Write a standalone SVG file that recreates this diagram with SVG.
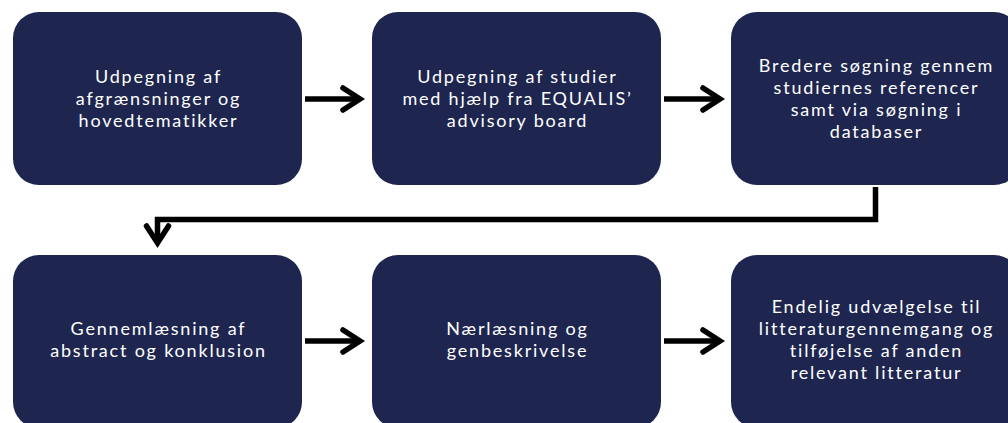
<svg xmlns="http://www.w3.org/2000/svg" width="1008" height="423" viewBox="0 0 1008 423">
<style>
.box{fill:#1E2650}
.t{fill:#ffffff;font-family:"Lato","Noto Sans",sans-serif;font-size:18px;letter-spacing:1.8px;text-anchor:middle}
.c{fill:none;stroke:#000;stroke-width:5.5}
</style>
<defs>
<marker id="ah" markerUnits="userSpaceOnUse" markerWidth="30" markerHeight="30" viewBox="-24 -15 30 30" refX="0" refY="0" orient="auto">
<path d="M-17,-11 L0,0 L-17,11" fill="none" stroke="#000" stroke-width="5.5" stroke-linecap="round" stroke-linejoin="miter"/>
</marker>
</defs>
<rect width="1008" height="423" fill="#fff"/>
<g id="n1"><rect class="box" x="13" y="12" width="289" height="173" rx="26"/>
<text class="t"><tspan x="158.5" y="83">Udpegning af</tspan><tspan x="158.5" y="105">afgrænsninger og</tspan><tspan x="158.5" y="127">hovedtematikker</tspan></text></g>
<g id="n2"><rect class="box" x="372" y="12" width="289" height="173" rx="26"/>
<text class="t"><tspan x="517.5" y="83">Udpegning af studier</tspan><tspan x="517.5" y="105">med hjælp fra EQUALIS’</tspan><tspan x="517.5" y="127">advisory board</tspan></text></g>
<g id="n3"><rect class="box" x="731" y="12" width="289" height="173" rx="26"/>
<text class="t"><tspan x="876.5" y="72">Bredere søgning gennem</tspan><tspan x="876.5" y="94">studiernes referencer</tspan><tspan x="876.5" y="116">samt via søgning i</tspan><tspan x="876.5" y="138">databaser</tspan></text></g>
<g id="n4"><rect class="box" x="13" y="255" width="289" height="173" rx="26"/>
<text class="t"><tspan x="158.5" y="335">Gennemlæsning af</tspan><tspan x="158.5" y="357">abstract og konklusion</tspan></text></g>
<g id="n5"><rect class="box" x="372" y="255" width="289" height="173" rx="26"/>
<text class="t"><tspan x="517.5" y="335">Nærlæsning og</tspan><tspan x="517.5" y="357">genbeskrivelse</tspan></text></g>
<g id="n6"><rect class="box" x="731" y="255" width="289" height="173" rx="26"/>
<text class="t"><tspan x="876.5" y="313">Endelig udvælgelse til</tspan><tspan x="876.5" y="335">litteraturgennemgang og</tspan><tspan x="876.5" y="357">tilføjelse af anden</tspan><tspan x="876.5" y="379">relevant litteratur</tspan></text></g>
<g id="connectors">
<path class="c" d="M305,99 H360" marker-end="url(#ah)"/>
<path class="c" d="M664,99 H720" marker-end="url(#ah)"/>
<path class="c" d="M875.5,187 V219.5 H157.5 V243" marker-end="url(#ah)"/>
<path class="c" d="M305,341 H360" marker-end="url(#ah)"/>
<path class="c" d="M664,341 H720" marker-end="url(#ah)"/>
</g>
</svg>
